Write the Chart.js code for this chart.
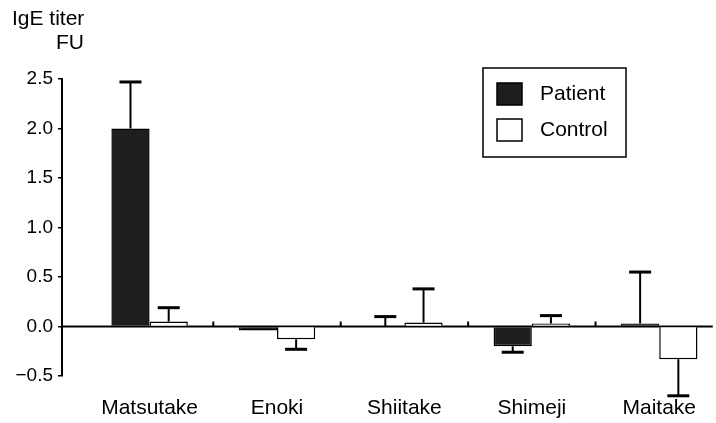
<!DOCTYPE html>
<html>
<head>
<meta charset="utf-8">
<script src="https://cdn.jsdelivr.net/npm/chart.js@4.4.1/dist/chart.umd.min.js"></script>
<style>
  body { margin: 0; background: #fff; }
  canvas { display: block; }
</style>
</head>
<body>
<canvas id="canvas" width="716" height="423"></canvas>
<script>
// IgE titer (FU) to mushroom extracts, patient vs control
let categories = ['Matsutake', 'Enoki', 'Shiitake', 'Shimeji', 'Maitake'];
let patient    = [2.0, -0.04, 0.0, -0.2, 0.03];
let patientErr = [0.47, 0, 0.1, 0.06, 0.52];
let control    = [0.05, -0.13, 0.04, 0.03, -0.33];
let controlErr = [0.14, 0.1, 0.34, 0.08, 0.37];
let yTicks     = [-0.5, 0, 0.5, 1.0, 1.5, 2.0, 2.5];

let errors = [patientErr, controlErr];
let font = 'Liberation Sans, Arial, sans-serif';

function points(values) {
  return values.map((v, i) => ({ x: i, y: v }));
}

// zero line + small boundary ticks between groups
let zeroLine = {
  id: 'zeroLine',
  beforeDatasetsDraw(chart) {
    let ctx = chart.ctx;
    let x = chart.scales.x, y = chart.scales.y;
    let y0 = y.getPixelForValue(0);
    ctx.save();
    ctx.strokeStyle = '#000';
    ctx.lineWidth = 2;
    ctx.beginPath();
    ctx.moveTo(chart.chartArea.left, y0);
    ctx.lineTo(chart.chartArea.right, y0);
    ctx.stroke();
    for (let i = 0; i < categories.length - 1; i++) {
      let px = x.getPixelForValue(i + 0.5);
      ctx.beginPath();
      ctx.moveTo(px, y0);
      ctx.lineTo(px, y0 - 5);
      ctx.stroke();
    }
    ctx.restore();
  }
};

// one-sided error bars, in the direction of the bar
let errorBars = {
  id: 'errorBars',
  afterDatasetsDraw(chart) {
    let ctx = chart.ctx;
    let y = chart.scales.y;
    ctx.save();
    ctx.strokeStyle = '#000';
    chart.data.datasets.forEach((ds, d) => {
      let meta = chart.getDatasetMeta(d);
      meta.data.forEach((bar, i) => {
        let v = ds.data[i].y;
        let e = errors[d][i];
        if (!e) return;
        let end = v >= 0 ? v + e : v - e;
        let py0 = y.getPixelForValue(v);
        let py1 = y.getPixelForValue(end);
        ctx.lineWidth = 2;
        ctx.beginPath();
        ctx.moveTo(bar.x, py0);
        ctx.lineTo(bar.x, py1);
        ctx.stroke();
        ctx.lineWidth = 3;
        ctx.beginPath();
        ctx.moveTo(bar.x - 11, py1);
        ctx.lineTo(bar.x + 11, py1);
        ctx.stroke();
      });
    });
    ctx.restore();
  }
};

// axis title and boxed legend
let labelsAndLegend = {
  id: 'labelsAndLegend',
  afterDraw(chart) {
    let ctx = chart.ctx;
    ctx.save();
    ctx.fillStyle = '#000';
    ctx.font = '21px ' + font;
    ctx.textBaseline = 'middle';
    ctx.textAlign = 'left';
    ctx.fillText('IgE titer', 12, 19);
    ctx.textAlign = 'right';
    ctx.fillText('FU', 84, 43);
    ctx.textAlign = 'left';

    ctx.strokeStyle = '#000';
    ctx.lineWidth = 1.5;
    ctx.strokeRect(483, 68, 143, 89);
    chart.data.datasets.forEach((ds, d) => {
      let top = 83 + d * 36;
      ctx.fillStyle = ds.backgroundColor;
      ctx.fillRect(497, top, 25, 22);
      ctx.strokeRect(497, top, 25, 22);
      ctx.fillStyle = '#000';
      ctx.fillText(ds.label, 540, top + 11);
    });
    ctx.restore();
  }
};

let options = {
  type: 'bar',
  data: {
    datasets: [
      {
        label: 'Patient',
        data: points(patient),
        backgroundColor: '#1e1e1e',
        borderColor: '#000',
        borderWidth: 1.5
      },
      {
        label: 'Control',
        data: points(control),
        backgroundColor: '#ffffff',
        borderColor: '#000',
        borderWidth: 1.5
      }
    ]
  },
  options: {
    responsive: false,
    animation: false,
    devicePixelRatio: 1,
    layout: { padding: { top: 79, right: 0, bottom: 0, left: 0 } },
    datasets: {
      bar: { categoryPercentage: 0.6, barPercentage: 1.0 }
    },
    plugins: {
      legend: { display: false },
      tooltip: { enabled: false }
    },
    scales: {
      x: {
        type: 'linear',
        offset: false,
        min: -0.6875,
        max: 4.42,
        afterBuildTicks: axis => {
          axis.ticks = categories.map((c, i) => ({ value: i }));
        },
        afterFit: axis => { axis.height = 47; },
        grid: { display: false, drawTicks: false },
        border: { display: false },
        ticks: {
          padding: 20,
          color: '#000',
          font: { family: font, size: 21 },
          maxRotation: 0,
          autoSkip: false,
          callback: v => categories[v]
        }
      },
      y: {
        min: -0.5,
        max: 2.5,
        afterBuildTicks: axis => {
          axis.ticks = yTicks.map(v => ({ value: v }));
        },
        afterFit: axis => { axis.width = 62; },
        grid: {
          drawOnChartArea: false,
          drawTicks: true,
          tickLength: 4,
          color: '#000',
          lineWidth: 1.5
        },
        border: { display: true, color: '#000', width: 2 },
        ticks: {
          padding: 5,
          color: '#000',
          font: { family: font, size: 19 },
          callback: v => (v < 0 ? '\u2212' : '') + Math.abs(v).toFixed(1)
        }
      }
    }
  },
  plugins: [zeroLine, errorBars, labelsAndLegend]
};

let chart = new Chart(document.getElementById('canvas'), options);
</script>
</body>
</html>
